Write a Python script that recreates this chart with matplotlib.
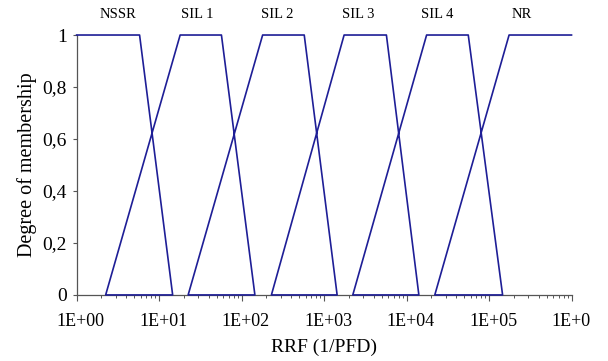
import matplotlib
matplotlib.use("Agg")
import matplotlib.pyplot as plt
import matplotlib.transforms as mtransforms
from matplotlib.ticker import LogLocator, NullFormatter

plt.rcParams['font.family'] = ['Liberation Serif', 'DejaVu Serif']

# membership classes and trapezoid corners (RRF values)
classes = ['NSSR', 'SIL 1', 'SIL 2', 'SIL 3', 'SIL 4', 'NR']
left_zero = [None, 2.25, 22.5, 230, 2230, 22000]
left_one = [1, 18, 180, 1750, 17500, 175000]
right_one = [5.8, 57, 575, 5700, 56000, 1e6]
right_zero = [14.6, 145, 1440, 14100, 146000, None]
label_x = [3.2, 28.7, 268, 2570, 23300, 251000]

x_ticks = [1e0, 1e1, 1e2, 1e3, 1e4, 1e5, 1e6]
x_ticklabels = ['1E+00', '1E+01', '1E+02', '1E+03', '1E+04', '1E+05', '1E+0']
y_ticks = [0, 0.2, 0.4, 0.6, 0.8, 1]
y_ticklabels = ['0', '0,2', '0,4', '0,6', '0,8', '1']

# one continuous polyline through all trapezoids
xs, ys = [], []
for lz, lo, ro, rz in zip(left_zero, left_one, right_one, right_zero):
    if lz is not None:
        xs.append(lz); ys.append(0)
    xs += [lo, ro]; ys += [1, 1]
    if rz is not None:
        xs.append(rz); ys.append(0)

fig = plt.figure(figsize=(6.08, 3.61), dpi=100)
ax = fig.add_axes([0.126, 0.183, 0.814, 0.72])
line_color = '#1e1e96'
ax.plot(xs, ys, color=line_color, lw=1.2, clip_on=False, zorder=3)

ax.set_xscale('log')
ax.set_xlim(1, 1e6)
ax.set_ylim(0, 1)

for s in ['top', 'right']:
    ax.spines[s].set_visible(False)
for s in ['left', 'bottom']:
    ax.spines[s].set_color('#555555')
    ax.spines[s].set_linewidth(0.9)

ax.set_xticks(x_ticks)
ax.set_xticklabels(x_ticklabels, fontsize=13)
ax.xaxis.set_minor_locator(LogLocator(base=10, subs=range(2, 10), numticks=20))
ax.xaxis.set_minor_formatter(NullFormatter())
ax.tick_params(axis='x', which='major', direction='out', length=4, width=0.8,
               color='#555555', pad=9)
ax.tick_params(axis='x', which='minor', direction='out', length=2.5, width=0.7,
               color='#555555')

offset = mtransforms.ScaledTranslation(4 / 100, 0, fig.dpi_scale_trans)
for i, lab in enumerate(ax.get_xticklabels()):
    lab.set_transform(lab.get_transform() + offset)
    if i == len(x_ticks) - 1:
        lab.set_horizontalalignment('left')
        lab.set_transform(lab.get_transform()
                          + mtransforms.ScaledTranslation(-24 / 100, 0, fig.dpi_scale_trans))

ax.set_yticks(y_ticks)
ax.set_yticklabels(y_ticklabels, fontsize=14)
ax.tick_params(axis='y', direction='out', length=3, width=0.8,
               color='#555555', pad=4)

ax.set_xlabel('RRF (1/PFD)', fontsize=14, labelpad=6)
ax.set_ylabel('Degree of membership', fontsize=14.5, labelpad=4)

for name, xv in zip(classes, label_x):
    ax.text(xv, 1.08, name, ha='center', va='center', fontsize=10.5,
            clip_on=False)

fig.savefig('out.png', dpi=100, facecolor='white')
